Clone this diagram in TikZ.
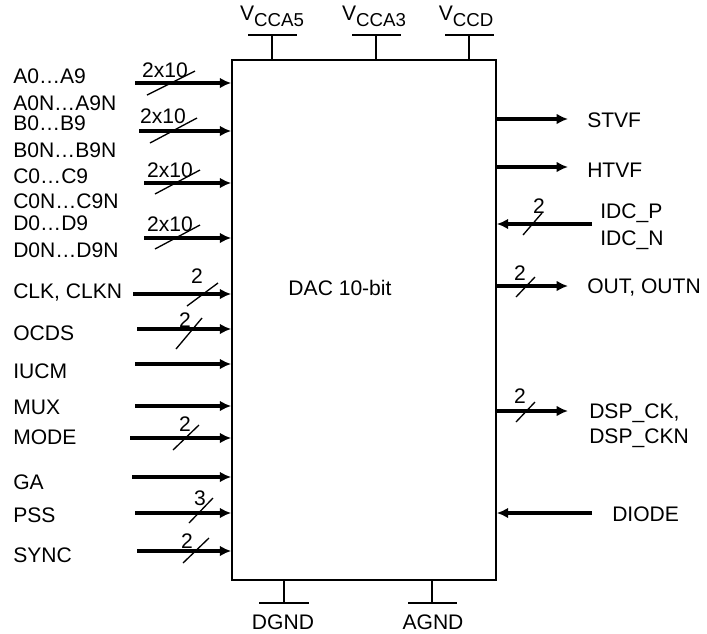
\documentclass[tikz,border=0pt]{standalone}
\usepackage{fontspec}
\setmainfont{Liberation Sans}
\usepackage{tikz}
\usetikzlibrary{arrows.meta}

\newcommand{\vcc}[1]{V\raisebox{-5pt}{\fontsize{14}{14}\selectfont #1}}

\tikzset{
  sig/.style={line width=2.6pt, -{Latex[length=8.5pt,width=8pt]}},
  bus/.style={line width=1pt},
  pin/.style={line width=1.1pt},
  lbl/.style={inner sep=0pt, font=\fontsize{15.8}{18}\selectfont},
}

\begin{document}
\begin{tikzpicture}[x=0.75pt, y=-0.75pt]
\useasboundingbox (0,0) rectangle (707,633);
\node[draw, line width=1.2pt, minimum width=198pt, minimum height=390pt, inner sep=0pt] (dac) at (364,320) {};
\node[lbl] (title) at (340,288) {DAC 10-bit};
% supplies on top
\coordinate (va5) at (272,35);
\coordinate (va3) at (376,35);
\coordinate (vd) at (469,35);
\draw[pin] (va5) -- (va5 |- dac.north);
\draw[pin] (va3) -- (va3 |- dac.north);
\draw[pin] (vd) -- (vd |- dac.north);
\draw[pin] (va5) ++(-24,0) -- ++(49,0);
\draw[pin] (va3) ++(-24,0) -- ++(49,0);
\draw[pin] (vd) ++(-24,0) -- ++(49,0);
\node[lbl, anchor=base] (va5-l) at (272,20) {\vcc{CCA5}};
\node[lbl, anchor=base] (va3-l) at (374,20) {\vcc{CCA3}};
\node[lbl, anchor=base] (vd-l) at (466,20) {\vcc{CCD}};
% grounds at the bottom
\coordinate (dg) at (284,603);
\coordinate (ag) at (432,603);
\draw[pin] (dg) -- (dg |- dac.south);
\draw[pin] (ag) -- (ag |- dac.south);
\draw[pin] (dg) ++(-25,0) -- ++(50,0);
\draw[pin] (ag) ++(-24,0) -- ++(49,0);
\node[lbl, anchor=base] (dg-l) at (283,629) {DGND};
\node[lbl, anchor=base] (ag-l) at (433,629) {AGND};
% data buses, 2x10 each
\node[lbl, anchor=base west] (a-l) at (13,83) {A0…A9};
\node[lbl, anchor=base west] (an-l) at (13,110) {A0N…A9N};
\coordinate (a-in) at (135,83);
\draw[sig] (a-in) -- (a-in -| dac.west);
\node[lbl, anchor=base] (a-n) at (165,77) {2x10};
\draw[bus] (147,95) -- (195,71);
\node[lbl, anchor=base west] (b-l) at (13,130) {B0…B9};
\node[lbl, anchor=base west] (bn-l) at (13,157) {B0N…B9N};
\coordinate (b-in) at (139,131);
\draw[sig] (b-in) -- (b-in -| dac.west);
\node[lbl, anchor=base] (b-n) at (163,123) {2x10};
\draw[bus] (150,143) -- (197,118);
\node[lbl, anchor=base west] (c-l) at (13,183) {C0…C9};
\node[lbl, anchor=base west] (cn-l) at (13,208) {C0N…C9N};
\coordinate (c-in) at (144,183);
\draw[sig] (c-in) -- (c-in -| dac.west);
\node[lbl, anchor=base] (c-n) at (170,177) {2x10};
\draw[bus] (155,194) -- (200,170);
\node[lbl, anchor=base west] (d-l) at (13,230) {D0…D9};
\node[lbl, anchor=base west] (dn-l) at (13,257) {D0N…D9N};
\coordinate (d-in) at (144,238);
\draw[sig] (d-in) -- (d-in -| dac.west);
\node[lbl, anchor=base] (d-n) at (170,231) {2x10};
\draw[bus] (155,249) -- (200,225);
% control inputs
\node[lbl, anchor=base west] (clk-l) at (13,298) {CLK, CLKN};
\coordinate (clk-in) at (133,294);
\draw[sig] (clk-in) -- (clk-in -| dac.west);
\node[lbl, anchor=base] (clk-n) at (197,283) {2};
\draw[bus] (187,306) -- (218,283);
\node[lbl, anchor=base west] (ocds-l) at (13,340) {OCDS};
\coordinate (ocds-in) at (137,329);
\draw[sig] (ocds-in) -- (ocds-in -| dac.west);
\node[lbl, anchor=base] (ocds-n) at (185,327) {2};
\draw[bus] (176,349) -- (202,318);
\node[lbl, anchor=base west] (iucm-l) at (13,378) {IUCM};
\coordinate (iucm-in) at (135,364);
\draw[sig] (iucm-in) -- (iucm-in -| dac.west);
\node[lbl, anchor=base west] (mux-l) at (13,414) {MUX};
\coordinate (mux-in) at (135,406);
\draw[sig] (mux-in) -- (mux-in -| dac.west);
\node[lbl, anchor=base west] (mode-l) at (13,444) {MODE};
\coordinate (mode-in) at (130,438);
\draw[sig] (mode-in) -- (mode-in -| dac.west);
\node[lbl, anchor=base] (mode-n) at (185,431) {2};
\draw[bus] (173,450) -- (199,425);
\node[lbl, anchor=base west] (ga-l) at (13,489) {GA};
\coordinate (ga-in) at (132,477);
\draw[sig] (ga-in) -- (ga-in -| dac.west);
\node[lbl, anchor=base west] (pss-l) at (13,522) {PSS};
\coordinate (pss-in) at (135,513);
\draw[sig] (pss-in) -- (pss-in -| dac.west);
\node[lbl, anchor=base] (pss-n) at (200,505) {3};
\draw[bus] (189,523) -- (213,498);
\node[lbl, anchor=base west] (sync-l) at (13,562) {SYNC};
\coordinate (sync-in) at (137,551);
\draw[sig] (sync-in) -- (sync-in -| dac.west);
\node[lbl, anchor=base] (sync-n) at (187,548) {2};
\draw[bus] (183,563) -- (209,538);
% right side
\coordinate (stvf-out) at (568,119);
\draw[sig] (stvf-out -| dac.east) -- (stvf-out);
\node[lbl, anchor=base west] (stvf-l) at (587,127) {STVF};
\coordinate (htvf-out) at (568,167);
\draw[sig] (htvf-out -| dac.east) -- (htvf-out);
\node[lbl, anchor=base west] (htvf-l) at (587,177) {HTVF};
\coordinate (idc-in) at (592,224);
\draw[sig] (idc-in) -- (idc-in -| dac.east);
\node[lbl, anchor=base] (idc-n) at (539,213) {2};
\draw[bus] (523,235) -- (542,213);
\node[lbl, anchor=base west] (idcp-l) at (600,218) {IDC\_P};
\node[lbl, anchor=base west] (idcn-l) at (600,245) {IDC\_N};
\coordinate (out-out) at (568,286);
\draw[sig] (out-out -| dac.east) -- (out-out);
\node[lbl, anchor=base] (out-n) at (520,280) {2};
\draw[bus] (516,297) -- (535,277);
\node[lbl, anchor=base west] (out-l) at (587,293) {OUT, OUTN};
\coordinate (dsp-out) at (568,411);
\draw[sig] (dsp-out -| dac.east) -- (dsp-out);
\node[lbl, anchor=base] (dsp-n) at (520,403) {2};
\draw[bus] (516,422) -- (535,402);
\node[lbl, anchor=base west] (dsp-l) at (589,418) {DSP\_CK,};
\node[lbl, anchor=base west] (dspn-l) at (589,443) {DSP\_CKN};
\coordinate (diode-in) at (592,513);
\draw[sig] (diode-in) -- (diode-in -| dac.east);
\node[lbl, anchor=base west] (diode-l) at (612,521) {DIODE};
\end{tikzpicture}
\end{document}
